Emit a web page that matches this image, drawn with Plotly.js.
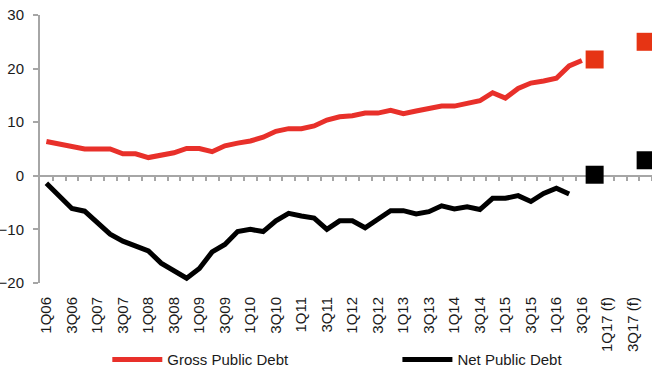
<!DOCTYPE html>
<html>
<head>
<meta charset="utf-8">
<script src="https://cdn.plot.ly/plotly-3.0.1.min.js"></script>
<style>html,body{margin:0;padding:0;background:#fff;}#chart{width:652px;height:369px;}</style>
</head>
<body>
<div id="chart"></div>
<script>
// Quarterly categories 1Q06 .. 4Q16, then forecast quarters of 2017
const categories = [
  "1Q06","2Q06","3Q06","4Q06","1Q07","2Q07","3Q07","4Q07",
  "1Q08","2Q08","3Q08","4Q08","1Q09","2Q09","3Q09","4Q09",
  "1Q10","2Q10","3Q10","4Q10","1Q11","2Q11","3Q11","4Q11",
  "1Q12","2Q12","3Q12","4Q12","1Q13","2Q13","3Q13","4Q13",
  "1Q14","2Q14","3Q14","4Q14","1Q15","2Q15","3Q15","4Q15",
  "1Q16","2Q16","3Q16","4Q16","1Q17 (f)","2Q17 (f)","3Q17 (f)","4Q17 (f)"
];
// Gross public debt (1Q06 .. 3Q16)
const grossDebt = [6.4,5.9,5.4,5.0,5.0,5.0,4.1,4.1,3.4,3.8,4.3,5.1,5.1,4.5,5.6,6.1,
  6.5,7.2,8.3,8.8,8.8,9.3,10.4,11.0,11.2,11.7,11.7,12.2,11.6,12.1,12.5,13.0,
  13.0,13.5,14.0,15.5,14.5,16.3,17.3,17.7,18.2,20.5,21.5];
// Net public debt (1Q06 .. 2Q16)
const netDebt = [-1.4,-3.8,-6.1,-6.6,-8.6,-10.9,-12.2,-13.1,-14.0,-16.3,-17.6,-19.1,-17.3,-14.2,-12.8,-10.4,
  -10.0,-10.4,-8.4,-7.0,-7.5,-7.9,-10.0,-8.4,-8.4,-9.7,-8.1,-6.5,-6.5,-7.1,-6.7,-5.6,
  -6.2,-5.8,-6.3,-4.2,-4.2,-3.7,-4.8,-3.3,-2.3,-3.4];
// Forecast points
const forecastCats = ["4Q16","4Q17 (f)"];
const grossForecast = [21.7,25.0];
const netForecast = [0.2,2.9];
// Tick labels shown (every other quarter)
const tickLabels = categories.filter((c,i)=>i%2===0);

const idx = c => categories.indexOf(c);
const RED = "#e8302a", RED_SQ = "#e63414", BLACK = "#000000", GREY = "#a6a6a6";

const traces = [
  {x: grossDebt.map((v,i)=>i), y: grossDebt, name: "Gross Public Debt", mode: "lines",
   line: {color: RED, width: 5}, legend: "legend"},
  {x: netDebt.map((v,i)=>i), y: netDebt, name: "Net Public Debt", mode: "lines",
   line: {color: BLACK, width: 5}, legend: "legend2"},
  {x: forecastCats.map(idx), y: grossForecast, mode: "markers", showlegend: false, xaxis: "x2",
   marker: {symbol: "square", size: 18, color: RED_SQ}},
  {x: forecastCats.map(idx), y: netForecast, mode: "markers", showlegend: false, xaxis: "x2",
   marker: {symbol: "square", size: 18, color: BLACK}}
];

const xr = [-0.5, categories.length - 0.5];
const font = {family: "Liberation Sans, Arial, sans-serif", size: 15, color: "#1a1a1a"};
const legendBase = {orientation: "h", xanchor: "left", y: -0.225, yanchor: "top",
                    font: font, bgcolor: "rgba(0,0,0,0)", itemwidth: 50};

const layout = {
  width: 652, height: 369,
  margin: {l: 40, r: 0, t: 15, b: 86, autoexpand: false},
  paper_bgcolor: "#ffffff", plot_bgcolor: "#ffffff",
  font: font,
  showlegend: true,
  legend: Object.assign({}, legendBase, {x: 0.110}),
  legend2: Object.assign({}, legendBase, {x: 0.584}),
  xaxis: {type: "linear", range: xr, showgrid: false, zeroline: false, showline: false,
          ticks: "", tickvals: tickLabels.map(idx), ticktext: tickLabels,
          tickangle: -90, ticklabelstandoff: 10, tickfont: font, automargin: false},
  xaxis2: {type: "linear", range: xr, overlaying: "x", anchor: "free", position: 0.4,
           showgrid: false, zeroline: false, showline: true, linecolor: GREY, linewidth: 2,
           ticks: "outside", ticklen: 4, tickwidth: 2, tickcolor: GREY,
           tickvals: categories.map((c,i)=>i+0.5), showticklabels: false, layer: "below traces"},
  yaxis: {range: [-20, 30], dtick: 10, tick0: 0, showgrid: false, zeroline: false,
          showline: true, linecolor: GREY, linewidth: 2, automargin: false,
          ticks: "outside", ticklen: 5, tickwidth: 2, tickcolor: GREY,
          ticklabelstandoff: 6, tickfont: font}
};

Plotly.newPlot("chart", traces, layout, {displayModeBar: false, staticPlot: true});
</script>
</body>
</html>
